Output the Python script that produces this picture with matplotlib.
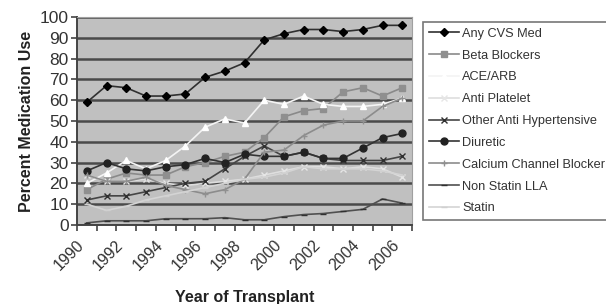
import numpy as np
import matplotlib
matplotlib.use("Agg")
import matplotlib.pyplot as plt

plt.rcParams['font.family'] = ['Liberation Sans', 'DejaVu Sans']

years = list(range(1990, 2007))

any_cvs = [59, 67, 66, 62, 62, 63, 71, 74, 78, 89, 92, 94, 94, 93, 94, 96, 96]
beta_blockers = [17, 22, 25, 24, 24, 28, 30, 33, 35, 42, 52, 55, 56, 64, 66, 62, 66]
ace_arb = [20, 25, 31, 27, 31, 38, 47, 51, 49, 60, 58, 62, 58, 57, 57, 58, 61]
anti_platelet = [24, 21, 21, 22, 20, 19, 20, 21, 22, 24, 26, 28, 28, 27, 28, 27, 23]
other_anti_hyp = [12, 14, 14, 16, 18, 20, 21, 27, 33, 38, 33, 35, 32, 31, 31, 31, 33]
diuretic = [26, 30, 27, 26, 28, 29, 32, 30, 34, 33, 33, 35, 32, 32, 37, 42, 44]
calcium_cb = [24, 21, 21, 23, 19, 17, 15, 17, 22, 35, 36, 43, 48, 50, 50, 57, 61]
non_statin_lla = [1, 2, 2, 2, 3, 3, 3, 3.5, 2.5, 2.5, 4, 5, 5.5, 6.5, 7.5, 12.5, 10.5]
statin = [10, 7, 9, 12, 14, 16, 18, 20, 22, 23, 25, 28, 27, 27, 27, 26, 24]

series = [
    ("Any CVS Med", any_cvs, dict(color="#303030", marker="D", ms=4, mfc="#000000", mec="#000000")),
    ("Beta Blockers", beta_blockers, dict(color="#8a8a8a", marker="s", ms=5, mfc="#8f8f8f", mec="#8f8f8f")),
    ("ACE/ARB", ace_arb, dict(color="#f4f4f4", marker="^", ms=5, mfc="#ffffff", mec="#ffffff")),
    ("Anti Platelet", anti_platelet, dict(color="#dedede", marker="x", ms=4, mec="#e6e6e6")),
    ("Other Anti Hypertensive", other_anti_hyp, dict(color="#454545", marker="x", ms=5, mec="#303030")),
    ("Diuretic", diuretic, dict(color="#333333", marker="o", ms=5, mfc="#222222", mec="#222222")),
    ("Calcium Channel Blocker", calcium_cb, dict(color="#8c8c8c", marker="+", ms=4, mec="#909090")),
    ("Non Statin LLA", non_statin_lla, dict(color="#505050", marker="_", ms=4, mec="#303030")),
    ("Statin", statin, dict(color="#d4d4d4", marker="_", ms=4, mec="#d0d0d0")),
]

fig = plt.figure(figsize=(6.06, 3.04), dpi=100)
ax = fig.add_axes([0.127, 0.26, 0.553, 0.684])
ax.set_facecolor("#c0c0c0")

x = np.arange(len(years))
for name, vals, style in series:
    ax.plot(x, vals, lw=1.2, label=name, **style)

ax.set_xlim(-0.5, len(years) - 0.5)
ax.set_ylim(0, 100)
ax.set_yticks(range(0, 101, 10))
ax.yaxis.grid(True, color="#4a4a4a", lw=1.8)
ax.set_axisbelow(True)

# tick marks at the category edges, labels centered on every other year
ax.set_xticks(np.arange(-0.5, len(years)), minor=False)
ax.set_xticklabels([])
ax.set_xticks(x[::2], minor=True)
ax.set_xticklabels([str(y) for y in years[::2]], minor=True, rotation=45,
                   ha="right", va="top", fontsize=11.5, color="#333333")
ax.tick_params(axis="x", which="minor", length=0, pad=9)
ax.tick_params(axis="x", which="major", length=4, width=1.2, color="#444444", direction="out")
ax.tick_params(axis="y", length=4, width=1.2, color="#444444", labelsize=12.5, labelcolor="#333333", pad=2)

for s in ["top", "right"]:
    ax.spines[s].set_color("#a0a0a0")
for s in ["left", "bottom"]:
    ax.spines[s].set_color("#444444")
    ax.spines[s].set_linewidth(1.4)

ax.set_xlabel("Year of Transplant", fontsize=11.5, fontweight="bold", labelpad=12, color="#222222")
ax.set_ylabel("Percent Medication Use", fontsize=11.5, fontweight="bold", labelpad=4, color="#222222")

leg = fig.legend(loc="upper left", bbox_to_anchor=(423 / 606, 1 - 22 / 304),
                 fontsize=9.2, labelspacing=0.77, handlelength=2.4, handletextpad=0.2,
                 borderpad=0.45, frameon=True, fancybox=False, borderaxespad=0)
leg.get_frame().set_edgecolor("#555555")
leg.get_frame().set_linewidth(1.2)
for t in leg.get_texts():
    t.set_color("#333333")

fig.savefig("out.png", dpi=100)
